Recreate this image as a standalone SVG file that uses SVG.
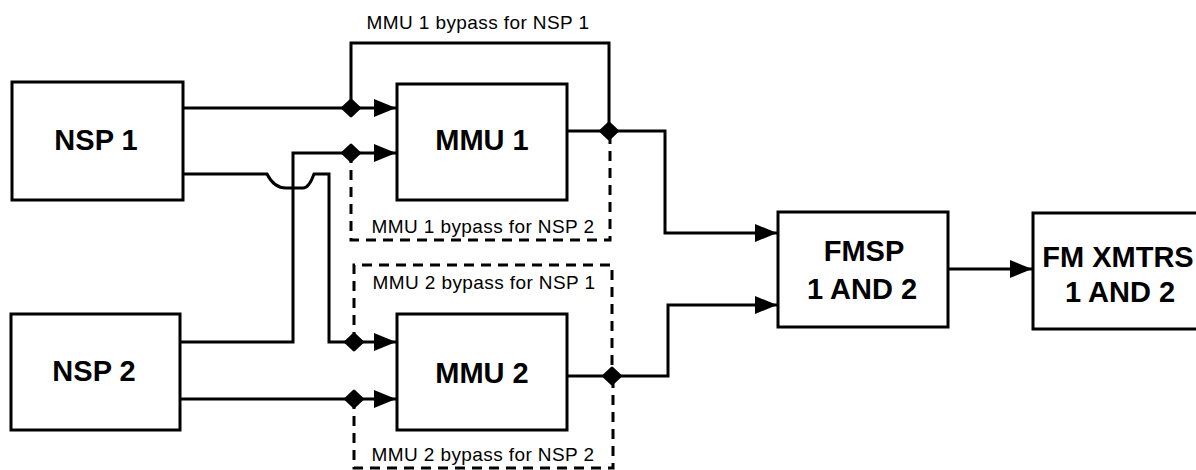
<svg xmlns="http://www.w3.org/2000/svg" width="1196" height="470" viewBox="0 0 1196 470">
<style>
.box{fill:#fff;stroke:#000;stroke-width:3}
.lbl{font-family:"Liberation Sans",Arial,sans-serif;font-size:29px;font-weight:bold;text-anchor:middle;fill:#000}
.sm{font-family:"Liberation Sans",Arial,sans-serif;font-size:19px;letter-spacing:0.4px;text-anchor:middle;fill:#000}
.ln{fill:none;stroke:#000;stroke-width:3}
.arr{marker-end:url(#ah)}
.dash{fill:none;stroke:#000;stroke-width:3;stroke-dasharray:10 7}
.dot{fill:#000;stroke:#000;stroke-width:3;stroke-linejoin:round}
</style>
<defs>
<marker id="ah" markerUnits="userSpaceOnUse" markerWidth="24" markerHeight="20" refX="22" refY="9" orient="auto">
<path d="M0,0 L22,9 L0,18 z" fill="#000"/>
</marker>
<path id="jn" d="M0,-8 L8.5,0 L0,8 L-8.5,0 z"/>
</defs>
<rect width="1196" height="470" fill="#fff"/>
<g id="connectors">
<path class="ln arr" d="M183,108 H396"/>
<path class="ln arr" d="M183,174 H267 Q274,188 286,188 H303 Q309,188 314,174 H329 V342 H396"/>
<path class="ln arr" d="M180,342 H293 V153 H396"/>
<path class="ln arr" d="M180,399 H396"/>
<path class="ln" d="M351,108 V43 H609 V131"/>
<path class="ln arr" d="M567,131 H665 V233 H777"/>
<path class="ln arr" d="M567,376 H668 V305 H777"/>
<path class="ln arr" d="M948,269 H1032"/>
<path class="dash" d="M351,153 V240 H610 V131"/>
<path class="dash" d="M354,342 V265 H612 V376"/>
<path class="dash" d="M354,399 V468 H613 V376"/>
<use href="#jn" class="dot" x="351" y="108"/>
<use href="#jn" class="dot" x="351" y="153"/>
<use href="#jn" class="dot" x="609" y="131"/>
<use href="#jn" class="dot" x="354" y="342"/>
<use href="#jn" class="dot" x="354" y="399"/>
<use href="#jn" class="dot" x="612" y="376"/>
<text class="sm" x="478" y="29">MMU 1 bypass for NSP 1</text>
<text class="sm" x="483" y="233">MMU 1 bypass for NSP 2</text>
<text class="sm" x="484" y="289">MMU 2 bypass for NSP 1</text>
<text class="sm" x="483" y="461">MMU 2 bypass for NSP 2</text>
</g>
<g id="nsp1"><rect class="box" x="12" y="82" width="171" height="118"/><text class="lbl" x="96" y="150">NSP 1</text></g>
<g id="nsp2"><rect class="box" x="11" y="314" width="169" height="116"/><text class="lbl" x="94" y="381">NSP 2</text></g>
<g id="mmu1"><rect class="box" x="397" y="84" width="170" height="116"/><text class="lbl" x="482" y="150">MMU 1</text></g>
<g id="mmu2"><rect class="box" x="397" y="314" width="170" height="116"/><text class="lbl" x="482" y="383">MMU 2</text></g>
<g id="fmsp"><rect class="box" x="778" y="212" width="170" height="115"/><text class="lbl" x="864" y="261">FMSP</text><text class="lbl" x="862" y="299">1 AND 2</text></g>
<g id="fmx"><rect class="box" x="1033" y="213" width="200" height="116"/><text class="lbl" x="1118" y="267">FM XMTRS</text><text class="lbl" x="1120" y="302">1 AND 2</text></g>
</svg>
